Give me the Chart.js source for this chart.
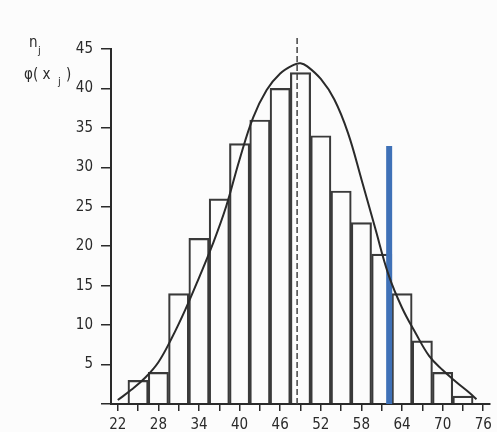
<!DOCTYPE html>
<html>
<head>
<meta charset="utf-8">
<script src="https://cdn.jsdelivr.net/npm/chart.js@4/dist/chart.umd.min.js"></script>
<style>
  html, body { margin: 0; padding: 0; background: #fcfcfc; }
  #wrap { width: 497px; height: 432px; position: relative; }
</style>
</head>
<body>
<div id="wrap"><canvas id="hist"></canvas></div>
<script>
// class midpoints and counts n_j
const binCenters = [25, 28, 31, 34, 37, 40, 43, 46, 49, 52, 55, 58, 61, 64, 67, 70, 73];
const binCounts = [3, 4, 14, 21, 26, 33, 36, 40, 42, 34, 27, 23, 19, 14, 8, 4, 1];

// fitted curve phi(x_j)
const curveX = [22, 24, 26, 28, 30, 32, 34, 36, 38, 40, 42, 44, 46, 48, 49, 50, 52, 54, 56, 58,
  60, 62, 64, 66, 68, 70, 72, 74, 75];
const curveY = [0.5, 1.8, 3.3, 5.3, 8.4, 12.0, 16.0, 20.2, 25.0, 31.0, 36.3, 39.8, 41.9, 43.0, 43.2, 42.8,
  41.2, 38.6, 34.4, 28.5, 22.4, 16.4, 12.2, 9.0, 6.1, 4.3, 2.8, 1.4, 0.6];

// mean (dashed) and marker (blue)
const meanX = 48.5;
const meanTop = 46.4;
const markerX = 62.1;
const markerTop = 32.7;

const xTickValues = [22, 25, 28, 31, 34, 37, 40, 43, 46, 49, 52, 55, 58, 61, 64, 67, 70, 73, 76];
const xTickLabels = ['22', '', '28', '', '34', '', '40', '', '46', '', '52', '', '58', '', '64', '', '70', '', '76'];
const yTickValues = [0, 5, 10, 15, 20, 25, 30, 35, 40, 45];

const ink = '#2a2a2a';
const tickFont = { family: '"DejaVu Sans Condensed", "DejaVu Sans"', size: 15 };

const axisLabel = {
  id: 'axisLabel',
  afterDraw(chart) {
    const ctx = chart.ctx;
    ctx.save();
    ctx.fillStyle = ink;
    ctx.textBaseline = 'alphabetic';
    ctx.font = '15px "DejaVu Sans Condensed", "DejaVu Sans"';
    ctx.fillText('n', 29, 47);
    ctx.fillText('φ( x', 24, 79);
    ctx.fillText(')', 66, 79);
    ctx.font = '11px "DejaVu Sans Condensed", "DejaVu Sans"';
    ctx.fillText('j', 38, 54);
    ctx.fillText('j', 58, 85);
    ctx.restore();
  }
};

new Chart(document.getElementById('hist').getContext('2d'), {
  type: 'bar',
  data: {
    datasets: [
      {
        type: 'line',
        data: curveX.map((x, i) => ({ x, y: curveY[i] })),
        borderColor: ink,
        borderWidth: 2,
        pointRadius: 0,
        tension: 0.4,
        fill: false,
        order: 0
      },
      {
        type: 'line',
        data: [{ x: markerX, y: 0 }, { x: markerX, y: markerTop }],
        borderColor: '#3f71b7',
        borderWidth: 6,
        borderCapStyle: 'butt',
        pointRadius: 0,
        fill: false,
        order: 0
      },
      {
        type: 'line',
        data: [{ x: meanX, y: 0 }, { x: meanX, y: meanTop }],
        borderColor: '#444',
        borderWidth: 1.5,
        borderDash: [6, 3],
        pointRadius: 0,
        fill: false,
        clip: false,
        order: 1
      },
      {
        type: 'bar',
        data: binCenters.map((x, i) => ({ x, y: binCounts[i] })),
        backgroundColor: 'rgba(255,255,255,0)',
        borderColor: '#3a3a3a',
        borderWidth: 1.5,
        barPercentage: 1,
        categoryPercentage: 1,
        order: 2
      }
    ]
  },
  options: {
    responsive: true,
    maintainAspectRatio: false,
    animation: false,
    layout: { padding: { left: 0, right: 7, top: 49, bottom: 0 } },
    plugins: { legend: { display: false }, tooltip: { enabled: false } },
    scales: {
      x: {
        type: 'linear',
        offset: false,
        min: 21,
        max: 77,
        afterBuildTicks(s) { s.ticks = xTickValues.map(v => ({ value: v })); },
        afterFit(s) { s.height = 28; },
        ticks: {
          autoSkip: false,
          maxRotation: 0,
          padding: 5,
          color: ink,
          font: tickFont,
          callback: (v) => xTickLabels[xTickValues.indexOf(v)]
        },
        grid: { drawOnChartArea: false, drawTicks: true, tickLength: 7, color: ink, lineWidth: 1.5, offset: false },
        border: { display: true, color: ink, width: 2 }
      },
      y: {
        min: 0,
        max: 45,
        afterBuildTicks(s) { s.ticks = yTickValues.map(v => ({ value: v })); },
        afterFit(s) { s.width = 111; },
        ticks: {
          padding: 8,
          color: ink,
          font: tickFont,
          callback: (v) => v === 0 ? '' : String(v)
        },
        grid: { drawOnChartArea: false, drawTicks: true, tickLength: 10, color: ink, lineWidth: 1.5 },
        border: { display: true, color: ink, width: 2 }
      }
    }
  },
  plugins: [axisLabel]
});
</script>
</body>
</html>
